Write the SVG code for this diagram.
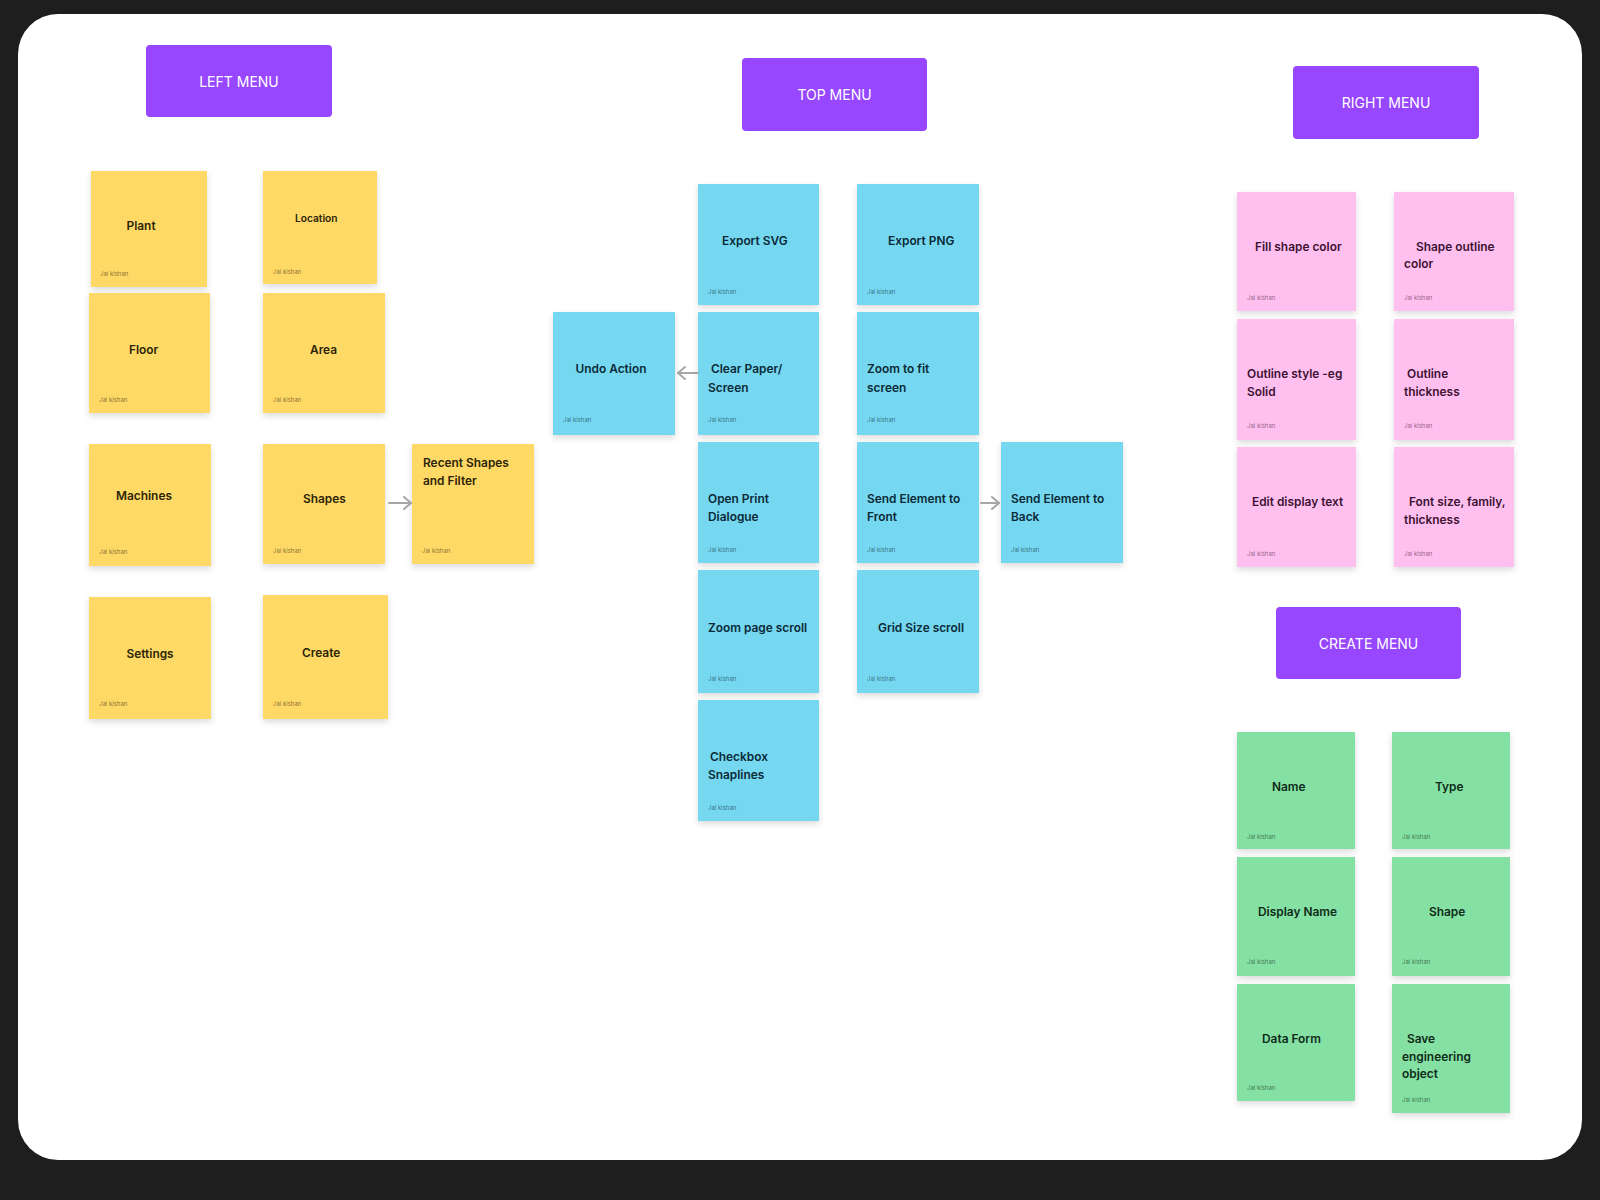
<svg xmlns="http://www.w3.org/2000/svg" width="1600" height="1200" viewBox="0 0 1600 1200">
<defs>
<style>
.menu{fill:#9747FF}
.mt{font-family:Inter,"Liberation Sans",sans-serif;font-size:14px;fill:#ffffff;text-anchor:middle}
.y{fill:#FFD966}
.b{fill:#75D7F0}
.p{fill:#FFC0F0}
.g{fill:#85E0A3}
.t{font-family:Inter,"Liberation Sans",sans-serif;font-size:11.9px;font-weight:600}
.ty{fill:#2C2407}
.tb{fill:#0B2A38}
.tp{fill:#3D1233}
.tg{fill:#0E2B18}
.a{font-family:Inter,"Liberation Sans",sans-serif;font-size:6px;fill-opacity:0.6}
.conn{fill:none;stroke:#A6A6A6;stroke-width:2;stroke-linecap:round;stroke-linejoin:round}
</style>
<filter id="sh" x="-20%" y="-20%" width="140%" height="150%">
<feDropShadow dx="0" dy="3" stdDeviation="3" flood-color="#000" flood-opacity="0.14"/>
</filter>
<marker id="ah" viewBox="0 0 14 14" refX="12" refY="7" markerWidth="14" markerHeight="14" markerUnits="userSpaceOnUse" orient="auto">
<path d="M5,1 L12,7 L5,13" fill="none" stroke="#A6A6A6" stroke-width="2" stroke-linecap="round" stroke-linejoin="round"/>
</marker>
</defs>
<rect x="0" y="0" width="1600" height="1200" fill="#1E1E1E"/>
<rect x="18" y="14" width="1564" height="1146" rx="40" fill="#FFFFFF"/>

<g id="left-menu"><rect class="menu" x="146" y="45" width="186" height="72" rx="4"/><text class="mt" x="239" y="87">LEFT MENU</text></g>
<g id="top-menu"><rect class="menu" x="742" y="58" width="185" height="73" rx="4"/><text class="mt" x="834.5" y="100">TOP MENU</text></g>
<g id="right-menu"><rect class="menu" x="1293" y="66" width="186" height="73" rx="4"/><text class="mt" x="1386" y="108">RIGHT MENU</text></g>
<g id="create-menu"><rect class="menu" x="1276" y="607" width="185" height="72" rx="4"/><text class="mt" x="1368.5" y="649">CREATE MENU</text></g>

<g id="plant"><rect class="y" filter="url(#sh)" x="91" y="171" width="116" height="116"/><text class="t ty" x="126.5" y="230">Plant</text><text class="a ty" x="100" y="276">Jai kishan</text></g>
<g id="location"><rect class="y" filter="url(#sh)" x="263" y="171" width="114" height="113"/><text class="t ty" x="295" y="222" style="font-size:10.2px">Location</text><text class="a ty" x="273" y="274">Jai kishan</text></g>
<g id="floor"><rect class="y" filter="url(#sh)" x="89" y="293" width="121" height="120"/><text class="t ty" x="129" y="354">Floor</text><text class="a ty" x="99" y="402">Jai kishan</text></g>
<g id="area"><rect class="y" filter="url(#sh)" x="263" y="293" width="122" height="120"/><text class="t ty" x="310" y="354">Area</text><text class="a ty" x="273" y="402">Jai kishan</text></g>
<g id="machines"><rect class="y" filter="url(#sh)" x="89" y="444" width="122" height="122"/><text class="t ty" x="116" y="500">Machines</text><text class="a ty" x="99" y="554">Jai kishan</text></g>
<g id="shapes"><rect class="y" filter="url(#sh)" x="263" y="444" width="122" height="120"/><text class="t ty" x="303" y="503">Shapes</text><text class="a ty" x="273" y="553">Jai kishan</text></g>
<g id="recent-shapes"><rect class="y" filter="url(#sh)" x="412" y="444" width="122" height="120"/><text class="t ty" x="423" y="467">Recent Shapes</text><text class="t ty" x="423" y="485">and Filter</text><text class="a ty" x="422" y="553">Jai kishan</text></g>
<g id="settings"><rect class="y" filter="url(#sh)" x="89" y="597" width="122" height="122"/><text class="t ty" x="126.5" y="658">Settings</text><text class="a ty" x="99" y="706">Jai kishan</text></g>
<g id="create"><rect class="y" filter="url(#sh)" x="263" y="595" width="125" height="124"/><text class="t ty" x="302" y="657">Create</text><text class="a ty" x="273" y="706">Jai kishan</text></g>

<g id="export-svg"><rect class="b" filter="url(#sh)" x="698" y="184" width="121" height="121"/><text class="t tb" x="722" y="245">Export SVG</text><text class="a tb" x="708" y="294">Jai kishan</text></g>
<g id="export-png"><rect class="b" filter="url(#sh)" x="857" y="184" width="122" height="121"/><text class="t tb" x="888" y="245">Export PNG</text><text class="a tb" x="867" y="294">Jai kishan</text></g>
<g id="undo-action"><rect class="b" filter="url(#sh)" x="553" y="312" width="122" height="123"/><text class="t tb" x="575.5" y="373">Undo Action</text><text class="a tb" x="563" y="422">Jai kishan</text></g>
<g id="clear-paper"><rect class="b" filter="url(#sh)" x="698" y="312" width="121" height="123"/><text class="t tb" x="711" y="373">Clear Paper/</text><text class="t tb" x="708" y="392">Screen</text><text class="a tb" x="708" y="422">Jai kishan</text></g>
<g id="zoom-fit"><rect class="b" filter="url(#sh)" x="857" y="312" width="122" height="123"/><text class="t tb" x="867" y="373">Zoom to fit</text><text class="t tb" x="867" y="392">screen</text><text class="a tb" x="867" y="422">Jai kishan</text></g>
<g id="open-print"><rect class="b" filter="url(#sh)" x="698" y="442" width="121" height="121"/><text class="t tb" x="708" y="503">Open Print</text><text class="t tb" x="708" y="521">Dialogue</text><text class="a tb" x="708" y="552">Jai kishan</text></g>
<g id="send-front"><rect class="b" filter="url(#sh)" x="857" y="442" width="122" height="121"/><text class="t tb" x="867" y="503">Send Element to</text><text class="t tb" x="867" y="521">Front</text><text class="a tb" x="867" y="552">Jai kishan</text></g>
<g id="send-back"><rect class="b" filter="url(#sh)" x="1001" y="442" width="122" height="121"/><text class="t tb" x="1011" y="503">Send Element to</text><text class="t tb" x="1011" y="521">Back</text><text class="a tb" x="1011" y="552">Jai kishan</text></g>
<g id="zoom-page"><rect class="b" filter="url(#sh)" x="698" y="570" width="121" height="123"/><text class="t tb" x="708" y="632">Zoom page scroll</text><text class="a tb" x="708" y="681">Jai kishan</text></g>
<g id="grid-size"><rect class="b" filter="url(#sh)" x="857" y="570" width="122" height="123"/><text class="t tb" x="878" y="632">Grid Size scroll</text><text class="a tb" x="867" y="681">Jai kishan</text></g>
<g id="checkbox"><rect class="b" filter="url(#sh)" x="698" y="700" width="121" height="121"/><text class="t tb" x="710" y="761">Checkbox</text><text class="t tb" x="708" y="779">Snaplines</text><text class="a tb" x="708" y="810">Jai kishan</text></g>

<g id="fill-shape"><rect class="p" filter="url(#sh)" x="1237" y="192" width="119" height="119"/><text class="t tp" x="1255" y="251">Fill shape color</text><text class="a tp" x="1247" y="300">Jai kishan</text></g>
<g id="shape-outline"><rect class="p" filter="url(#sh)" x="1394" y="192" width="120" height="119"/><text class="t tp" x="1416" y="251">Shape outline</text><text class="t tp" x="1404" y="268">color</text><text class="a tp" x="1404" y="300">Jai kishan</text></g>
<g id="outline-style"><rect class="p" filter="url(#sh)" x="1237" y="319" width="119" height="121"/><text class="t tp" x="1247" y="378">Outline style -eg</text><text class="t tp" x="1247" y="396">Solid</text><text class="a tp" x="1247" y="428">Jai kishan</text></g>
<g id="outline-thickness"><rect class="p" filter="url(#sh)" x="1394" y="319" width="120" height="121"/><text class="t tp" x="1407" y="378">Outline</text><text class="t tp" x="1404" y="396">thickness</text><text class="a tp" x="1404" y="428">Jai kishan</text></g>
<g id="edit-display"><rect class="p" filter="url(#sh)" x="1237" y="447" width="119" height="120"/><text class="t tp" x="1252" y="506">Edit display text</text><text class="a tp" x="1247" y="556">Jai kishan</text></g>
<g id="font-size"><rect class="p" filter="url(#sh)" x="1394" y="447" width="120" height="120"/><text class="t tp" x="1409" y="506">Font size, family,</text><text class="t tp" x="1404" y="524">thickness</text><text class="a tp" x="1404" y="556">Jai kishan</text></g>

<g id="name"><rect class="g" filter="url(#sh)" x="1237" y="732" width="118" height="117"/><text class="t tg" x="1272" y="791">Name</text><text class="a tg" x="1247" y="839">Jai kishan</text></g>
<g id="type"><rect class="g" filter="url(#sh)" x="1392" y="732" width="118" height="117"/><text class="t tg" x="1435" y="791">Type</text><text class="a tg" x="1402" y="839">Jai kishan</text></g>
<g id="display-name"><rect class="g" filter="url(#sh)" x="1237" y="857" width="118" height="119"/><text class="t tg" x="1258" y="916">Display Name</text><text class="a tg" x="1247" y="964">Jai kishan</text></g>
<g id="shape"><rect class="g" filter="url(#sh)" x="1392" y="857" width="118" height="119"/><text class="t tg" x="1429" y="916">Shape</text><text class="a tg" x="1402" y="964">Jai kishan</text></g>
<g id="data-form"><rect class="g" filter="url(#sh)" x="1237" y="984" width="118" height="117"/><text class="t tg" x="1262" y="1043">Data Form</text><text class="a tg" x="1247" y="1090">Jai kishan</text></g>
<g id="save-object"><rect class="g" filter="url(#sh)" x="1392" y="984" width="118" height="129"/><text class="t tg" x="1407" y="1043">Save</text><text class="t tg" x="1402" y="1061">engineering</text><text class="t tg" x="1402" y="1078">object</text><text class="a tg" x="1402" y="1102">Jai kishan</text></g>

<g id="connectors">
<line class="conn" x1="389" y1="503" x2="411" y2="503" marker-end="url(#ah)"/>
<line class="conn" x1="698" y1="373" x2="678" y2="373" marker-end="url(#ah)"/>
<line class="conn" x1="981" y1="503" x2="999" y2="503" marker-end="url(#ah)"/>
</g>
</svg>
